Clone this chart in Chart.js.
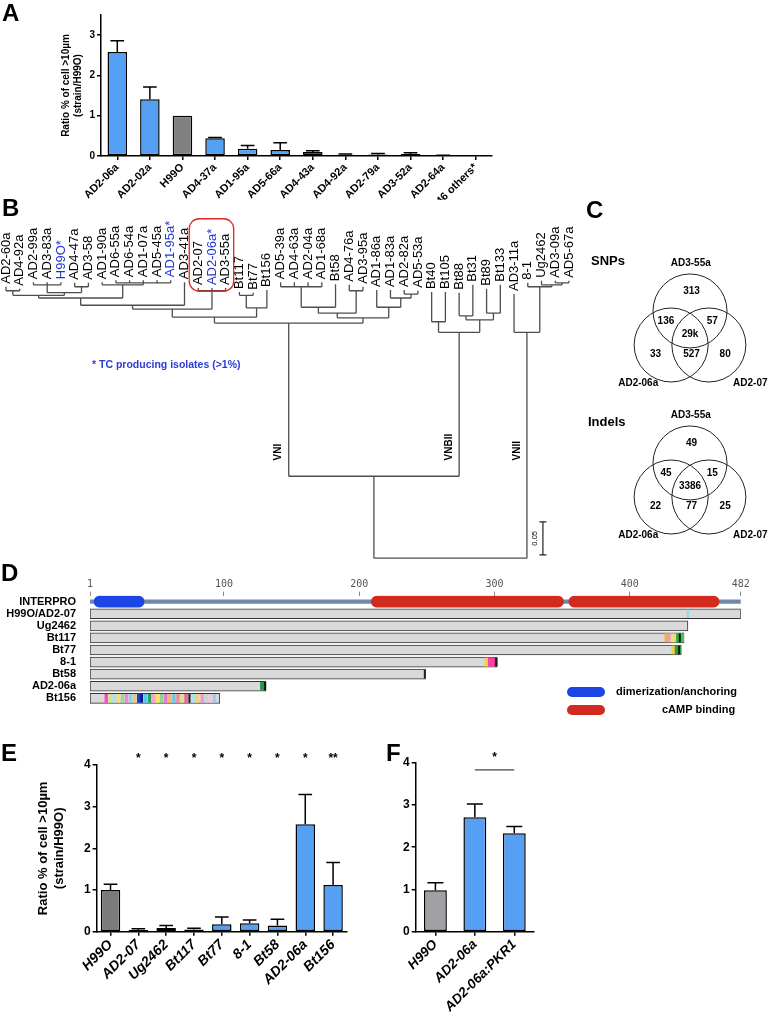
<!DOCTYPE html>
<html>
<head>
<meta charset="utf-8">
<script src="https://cdn.jsdelivr.net/npm/chart.js@4.4.1/dist/chart.umd.min.js"></script>
<style>
  body { margin: 0; background: #fff; font-family: "Liberation Sans", Arial, sans-serif; }
  #page { position: relative; width: 769px; height: 1012px; overflow: hidden; }
  canvas, .txt, .letter, .pill { position: absolute; }
  .letter { font-weight: bold; font-size: 24px; line-height: 1; }
  .txt { font-weight: bold; white-space: nowrap; line-height: 1.2; }
  .pill { width: 38px; height: 10px; border-radius: 5px; }
</style>
</head>
<body>
<div id="page">
  <canvas id="chartA" width="500" height="200" style="left:0;top:0"></canvas>
  <canvas id="tree" width="600" height="480" style="left:0;top:195px"></canvas>
  <canvas id="vennSnp" width="189" height="165" style="left:580px;top:240px"></canvas>
  <canvas id="vennIndel" width="189" height="165" style="left:580px;top:392px"></canvas>
  <canvas id="pkr" width="769" height="150" style="left:0;top:575px"></canvas>
  <canvas id="chartE" width="380" height="272" style="left:0;top:740px"></canvas>
  <canvas id="chartF" width="200" height="272" style="left:380px;top:740px"></canvas>

  <div class="letter" style="left:2px;top:1px">A</div>
  <div class="letter" style="left:2px;top:196px">B</div>
  <div class="letter" style="left:586px;top:198px">C</div>
  <div class="letter" style="left:1px;top:561px">D</div>
  <div class="letter" style="left:1px;top:741px">E</div>
  <div class="letter" style="left:386px;top:741px">F</div>

  <div class="txt" style="left:92px;top:358px;font-size:10.5px;color:#2a3bd6">* TC producing isolates (&gt;1%)</div>
  <div class="txt" style="left:591px;top:253px;font-size:13px">SNPs</div>
  <div class="txt" style="left:588px;top:414px;font-size:13px">Indels</div>

  <div class="pill" style="left:567px;top:687px;background:#1d45e6"></div>
  <div class="pill" style="left:567px;top:705px;background:#d12a1f"></div>
  <div class="txt" style="left:616px;top:685px;font-size:11px">dimerization/anchoring</div>
  <div class="txt" style="left:662px;top:703px;font-size:11px">cAMP binding</div>
</div>

<script>
// A: screen of isolates
const aStrains = ["AD2-06a", "AD2-02a", "H99O", "AD4-37a", "AD1-95a", "AD5-66a", "AD4-43a", "AD4-92a", "AD2-79a", "AD3-52a", "AD2-64a", "46 others*"];
const aRatio = [2.58, 1.41, 1.0, 0.44, 0.18, 0.15, 0.10, 0.03, 0.04, 0.05, 0.01, 0];
const aSem = [0.28, 0.30, 0, 0.02, 0.08, 0.18, 0.03, 0.02, 0.02, 0.03, 0.01, 0];

// E: PKR1 alleles
const eStrains = ["H99O", "AD2-07", "Ug2462", "Bt117", "Bt77", "8-1", "Bt58", "AD2-06a", "Bt156"];
const eRatio = [1.0, 0.04, 0.09, 0.05, 0.18, 0.20, 0.15, 2.58, 1.12];
const eSem = [0.14, 0.03, 0.06, 0.03, 0.17, 0.08, 0.15, 0.71, 0.54];
const eStars = ["", "*", "*", "*", "*", "*", "*", "*", "**"];

// F: complementation
const fStrains = ["H99O", "AD2-06a", "AD2-06a:PKR1"];
const fRatio = [0.98, 2.71, 2.33];
const fSem = [0.18, 0.31, 0.16];
const fSig = ["AD2-06a", "AD2-06a:PKR1", 3.83, "*"];

// B: tree leaves (left to right) and depth of each tip from the root
const leafNames = ["AD2-60a", "AD4-92a", "AD2-99a", "AD3-83a", "H99O", "AD4-47a", "AD3-58", "AD1-90a", "AD6-55a", "AD6-54a",
  "AD1-07a", "AD5-45a", "AD1-95a", "AD3-41a", "AD2-07", "AD2-06a", "AD3-55a", "Bt117", "Bt77", "Bt156",
  "AD5-39a", "AD4-63a", "AD2-04a", "AD1-68a", "Bt58", "AD4-76a", "AD3-95a", "AD1-86a", "AD1-83a", "AD2-82a",
  "AD5-53a", "Bt40", "Bt105", "Bt88", "Bt31", "Bt89", "Bt133", "AD3-11a", "8-1", "Ug2462", "AD3-09a", "AD5-67a"];
const leafDepth = [0.411, 0.408, 0.418, 0.418, 0.418, 0.417, 0.417, 0.418, 0.421, 0.421,
  0.421, 0.421, 0.421, 0.418, 0.409, 0.409, 0.409, 0.403, 0.402, 0.406,
  0.418, 0.418, 0.418, 0.418, 0.415, 0.414, 0.411, 0.406, 0.406, 0.406,
  0.405, 0.403, 0.403, 0.402, 0.414, 0.408, 0.414, 0.400, 0.417, 0.420, 0.420, 0.420];
const tcLeaves = ["H99O", "AD1-95a", "AD2-06a"];
const boxLeaves = ["AD2-07", "AD2-06a", "AD3-55a"];
const treeNodes = [
  ["n1", ["AD2-60a", "AD4-92a"], 0.405],
  ["n2", ["AD2-99a", "AD3-83a", "H99O"], 0.414],
  ["n3", ["AD4-47a", "AD3-58"], 0.411],
  ["n4", ["n2", "n3"], 0.402],
  ["n5", ["n1", "n4"], 0.398],
  ["nS", ["AD6-55a", "AD6-54a", "AD1-07a", "AD5-45a", "AD1-95a"], 0.417],
  ["n6", ["AD1-90a", "nS"], 0.414],
  ["n7", ["n5", "n6"], 0.394],
  ["n8", ["n7", "AD3-41a"], 0.383],
  ["n9", ["AD2-07", "AD2-06a", "AD3-55a"], 0.405],
  ["n10", ["n8", "n9"], 0.377],
  ["n11", ["Bt117", "Bt77"], 0.398],
  ["n12", ["n11", "Bt156"], 0.379],
  ["n13", ["n10", "n12"], 0.365],
  ["n14", ["AD5-39a", "AD4-63a", "AD2-04a", "AD1-68a"], 0.411],
  ["n15", ["n14", "Bt58"], 0.380],
  ["n16", ["AD4-76a", "AD3-95a"], 0.405],
  ["n17", ["n15", "n16"], 0.371],
  ["n18", ["AD2-82a", "AD5-53a"], 0.400],
  ["n19", ["AD1-83a", "n18"], 0.394],
  ["n20", ["AD1-86a", "n19"], 0.380],
  ["n21", ["n17", "n20"], 0.364],
  ["VNI", ["n13", "n21"], 0.356],
  ["b1", ["Bt40", "Bt105"], 0.358],
  ["b2", ["Bt88", "Bt31"], 0.367],
  ["b3", ["Bt89", "Bt133"], 0.371],
  ["b4", ["b2", "b3"], 0.361],
  ["VNBII", ["b1", "b4"], 0.342],
  ["u1", ["AD3-09a", "AD5-67a"], 0.417],
  ["u2", ["Ug2462", "u1"], 0.414],
  ["u3", ["8-1", "u2"], 0.411],
  ["VNII", ["AD3-11a", "u3"], 0.342],
  ["top", ["VNI", "VNBII"], 0.124],
  ["root", ["top", "VNII"], 0]
];
const cladeNames = ["VNI", "VNBII", "VNII"];
const scaleBarLen = 0.05;

// C: Venn counts, regions = [top only, top+left, top+right, all, left only, left+right, right only]
const vennSets = ["AD3-55a", "AD2-06a", "AD2-07"];
const snpCounts = ["313", "136", "57", "29k", "33", "527", "80"];
const indelCounts = ["49", "45", "15", "3386", "22", "77", "25"];

// D: Pkr1 protein products
const dRows = ["INTERPRO", "H99O/AD2-07", "Ug2462", "Bt117", "Bt77", "8-1", "Bt58", "AD2-06a", "Bt156"];
const proteinEnd = [null, 482, 443, 440, 438, 302, 249, 131, 97];
const dTicks = [1, 100, 200, 300, 400, 482];
const domainStart = [4, 209, 355];
const domainEnd = [41, 351, 466];
const stripes = [
  ["H99O/AD2-07", 442.5, 443.5],
  ["Bt117", 426, 428], ["Bt117", 428, 430], ["Bt117", 430, 432], ["Bt117", 432, 434], ["Bt117", 434, 436], ["Bt117", 436, 437.5], ["Bt117", 437.5, 440],
  ["Bt77", 431, 433], ["Bt77", 433, 435.5], ["Bt77", 435.5, 437], ["Bt77", 437, 438],
  ["8-1", 293, 295], ["8-1", 295, 300], ["8-1", 300, 302],
  ["Bt58", 248, 249],
  ["AD2-06a", 127, 129.5], ["AD2-06a", 129.5, 131],
  ["Bt156", 12, 14], ["Bt156", 15, 17], ["Bt156", 18, 20], ["Bt156", 21, 23], ["Bt156", 24, 26], ["Bt156", 27, 29],
  ["Bt156", 30, 32], ["Bt156", 33, 35], ["Bt156", 36, 38], ["Bt156", 38, 40], ["Bt156", 41, 43], ["Bt156", 44, 46],
  ["Bt156", 47, 49], ["Bt156", 50, 52], ["Bt156", 53, 55], ["Bt156", 56, 58], ["Bt156", 59, 61], ["Bt156", 62, 64],
  ["Bt156", 65, 67], ["Bt156", 68, 70], ["Bt156", 71, 73], ["Bt156", 74, 75], ["Bt156", 76, 78], ["Bt156", 79, 81],
  ["Bt156", 83, 85], ["Bt156", 86, 88], ["Bt156", 89, 91], ["Bt156", 92, 94]
];
const stripeColors = [
  "#8fdbe8",
  "#f5b23c", "#f29bc0", "#e9d9a6", "#f2e24a", "#2faa4a", "#111111", "#47c25a",
  "#f3d04a", "#2b9e46", "#111111", "#3dbb55",
  "#f4cf40", "#ff3da6", "#222222",
  "#222222",
  "#1f9a45", "#111111",
  "#ff45c8", "#cfe97a", "#a8e6e6", "#f6e36c", "#9edb8c", "#e98ad3",
  "#86d4ef", "#f3c46e", "#1d3dd0", "#0d1f80", "#56c8ef", "#2e9e5b",
  "#f5a6c9", "#f4e565", "#90d38f", "#df78d6", "#f2b56a", "#70c6df",
  "#ef88a0", "#d6e77b", "#f45d9b", "#1a1a1a", "#a7e2fb", "#f3d45f",
  "#f39bc2", "#c9d3d8", "#f6c4d8", "#99cef4"
];

const FONT = "'Liberation Sans', Arial, sans-serif";
const blue = "#55a0f5";
Chart.defaults.font.family = FONT;
Chart.defaults.color = "#000";
Chart.defaults.animation = false;
Chart.defaults.responsive = false;
Chart.defaults.plugins.legend.display = false;
Chart.defaults.plugins.tooltip.enabled = false;

function barChart(id, labels, values, sems, colors, o) {
  const marks = {
    id: "marks",
    afterDatasetsDraw(chart) {
      const { ctx, chartArea } = chart;
      const x = chart.scales.x, y = chart.scales.y;
      ctx.save();
      ctx.strokeStyle = "#000";
      ctx.lineWidth = 1.5;
      chart.getDatasetMeta(0).data.forEach((bar, i) => {
        if (!sems[i]) return;
        const top = y.getPixelForValue(values[i] + sems[i]);
        const half = bar.width * 0.35;
        ctx.beginPath();
        ctx.moveTo(bar.x, y.getPixelForValue(values[i]));
        ctx.lineTo(bar.x, top);
        ctx.moveTo(bar.x - half, top);
        ctx.lineTo(bar.x + half, top);
        ctx.stroke();
      });
      ctx.fillStyle = "#000";
      ctx.textAlign = "center";
      ctx.textBaseline = "middle";
      ctx.font = "bold 12px " + FONT;
      if (o.stars) {
        o.stars.forEach((s, i) => { if (s) ctx.fillText(s, x.getPixelForValue(i), chartArea.top - 6); });
      }
      if (o.sig) {
        const [a, b, level, text] = o.sig;
        const x0 = x.getPixelForValue(labels.indexOf(a));
        const x1 = x.getPixelForValue(labels.indexOf(b));
        const ly = y.getPixelForValue(level);
        ctx.strokeStyle = "#444";
        ctx.lineWidth = 1.2;
        ctx.beginPath();
        ctx.moveTo(x0, ly);
        ctx.lineTo(x1, ly);
        ctx.stroke();
        ctx.fillText(text, (x0 + x1) / 2, ly - 12);
      }
      ctx.restore();
    }
  };
  return new Chart(document.getElementById(id), {
    type: "bar",
    data: {
      labels: labels,
      datasets: [{
        data: values,
        backgroundColor: colors,
        borderColor: "#000",
        borderWidth: 1.5,
        borderSkipped: false,
        barPercentage: o.barPct,
        categoryPercentage: 1
      }]
    },
    options: {
      layout: { padding: o.pad },
      scales: {
        x: {
          grid: { drawOnChartArea: false, offset: false, color: "#000", lineWidth: 1.5, tickLength: 4 },
          border: { color: "#000", width: 1.5 },
          ticks: { font: o.xFont, minRotation: 45, maxRotation: 45, autoSkip: false, padding: 1 },
          afterFit: (s) => { s.height = o.xH; }
        },
        y: {
          min: 0,
          max: o.yMax,
          grid: { drawOnChartArea: false, color: "#000", lineWidth: 1.5, tickLength: 4 },
          border: { color: "#000", width: 1.5 },
          ticks: { stepSize: 1, includeBounds: false, font: o.yFont, padding: 2 },
          title: o.title ? { display: true, text: o.title, font: o.titleFont, padding: 0 } : { display: false },
          afterFit: (s) => { s.width = o.yW; }
        }
      }
    },
    plugins: [marks]
  });
}

barChart("chartA", aStrains, aRatio, aSem, aStrains.map(s => s === "H99O" ? "#808080" : blue), {
  barPct: 0.6, pad: { left: 60, top: 15, right: 8, bottom: 0 }, xH: 44, yW: 41, yMax: 3.5,
  xFont: { size: 11, weight: "bold" }, yFont: { size: 10, weight: "bold" },
  title: ["Ratio % of cell >10µm", "(strain/H99O)"], titleFont: { size: 10, weight: "bold" }
});

barChart("chartE", eStrains, eRatio, eSem, eStrains.map(s => s === "H99O" ? "#7b7b7b" : blue), {
  barPct: 0.7, pad: { left: 36, top: 25, right: 33, bottom: 0 }, xH: 80.3, yW: 60.6, yMax: 4,
  xFont: { size: 14, weight: "bold", style: "italic" }, yFont: { size: 12, weight: "bold" },
  title: ["Ratio % of cell >10µm", "(strain/H99O)"], titleFont: { size: 13, weight: "bold" },
  stars: eStars
});

barChart("chartF", fStrains, fRatio, fSem, fStrains.map(s => s === "H99O" ? "#a1a1a5" : blue), {
  barPct: 0.58, pad: { left: 0, top: 22.7, right: 46, bottom: 0 }, xH: 80.3, yW: 35.7, yMax: 4,
  xFont: { size: 13.5, weight: "bold", style: "italic" }, yFont: { size: 12, weight: "bold" },
  sig: fSig
});

// B: build the cladogram segments from the node list
const pos = {};
leafNames.forEach((n, i) => { pos[n] = { x: i, y: leafDepth[i] }; });
const treeSegs = [];
treeNodes.forEach(([id, kids, depth]) => {
  const x0 = pos[kids[0]].x;
  const x1 = pos[kids[kids.length - 1]].x;
  treeSegs.push({ x: x0, y: depth }, { x: x1, y: depth }, { x: x1, y: null });
  kids.forEach((k) => {
    treeSegs.push({ x: pos[k].x, y: pos[k].y }, { x: pos[k].x, y: depth }, { x: pos[k].x, y: null });
  });
  pos[id] = { x: (x0 + x1) / 2, y: depth };
});

const treeText = {
  id: "treeText",
  afterDatasetsDraw(chart) {
    const { ctx } = chart;
    const x = chart.scales.x, y = chart.scales.y;
    ctx.save();
    ctx.font = "13px " + FONT;
    ctx.textAlign = "left";
    ctx.textBaseline = "middle";
    let boxTop = Infinity;
    leafNames.forEach((name, i) => {
      const tc = tcLeaves.includes(name);
      const label = tc ? name + "*" : name;
      const px = x.getPixelForValue(i);
      const py = y.getPixelForValue(leafDepth[i]) - 3;
      if (boxLeaves.includes(name)) boxTop = Math.min(boxTop, py - ctx.measureText(label).width);
      ctx.fillStyle = tc ? "#1f35d8" : "#000";
      ctx.save();
      ctx.translate(px, py);
      ctx.rotate(-Math.PI / 2);
      ctx.fillText(label, 0, 0);
      ctx.restore();
    });

    // red box round the three sequenced strains
    const bl = x.getPixelForValue(leafNames.indexOf(boxLeaves[0])) - 9;
    const br = x.getPixelForValue(leafNames.indexOf(boxLeaves[boxLeaves.length - 1])) + 8;
    const bb = y.getPixelForValue(pos.n9.y) + 0.5;
    ctx.strokeStyle = "#e2271f";
    ctx.lineWidth = 1.3;
    ctx.beginPath();
    ctx.roundRect(bl, boxTop - 10, br - bl, bb - boxTop + 10, 10);
    ctx.stroke();

    // clade names along the stems
    ctx.fillStyle = "#000";
    ctx.font = "bold 10px " + FONT;
    ctx.textBaseline = "bottom";
    cladeNames.forEach((c) => {
      ctx.save();
      ctx.translate(x.getPixelForValue(pos[c].x) - 5, y.getPixelForValue(0.148));
      ctx.rotate(-Math.PI / 2);
      ctx.fillText(c, 0, 0);
      ctx.restore();
    });

    // scale bar
    const sx = x.getPixelForValue(pos.VNII.x) + 16;
    const s0 = y.getPixelForValue(0.005);
    const s1 = y.getPixelForValue(0.005 + scaleBarLen);
    ctx.strokeStyle = "#222";
    ctx.lineWidth = 1.2;
    ctx.beginPath();
    ctx.moveTo(sx, s0); ctx.lineTo(sx, s1);
    ctx.moveTo(sx - 3.5, s0); ctx.lineTo(sx + 3.5, s0);
    ctx.moveTo(sx - 3.5, s1); ctx.lineTo(sx + 3.5, s1);
    ctx.stroke();
    ctx.font = "7.5px " + FONT;
    ctx.textAlign = "center";
    ctx.textBaseline = "middle";
    ctx.save();
    ctx.translate(sx - 8, (s0 + s1) / 2);
    ctx.rotate(-Math.PI / 2);
    ctx.fillText(String(scaleBarLen), 0, 0);
    ctx.restore();
    ctx.restore();
  }
};

new Chart(document.getElementById("tree"), {
  type: "line",
  data: {
    datasets: [{
      data: treeSegs,
      borderColor: "#4d4d4d",
      borderWidth: 1.3,
      pointRadius: 0,
      spanGaps: false,
      tension: 0
    }]
  },
  options: {
    layout: { padding: 0 },
    scales: {
      x: { type: "linear", display: false, min: -0.437, max: 43.26 },
      y: { type: "linear", display: false, min: -0.177, max: 0.55 }
    }
  },
  plugins: [treeText]
});

// C: Venn diagrams, geometry in units of one circle radius
const circleCenters = [[0, 0.92], [-0.51, 0], [0.51, 0]];
const regionSpots = [[0.04, 1.46], [-0.65, 0.65], [0.6, 0.65], [0, 0.28], [-0.93, -0.25], [0.04, -0.25], [0.95, -0.25]];
const nameSpots = [[0.02, 2.2], [-1.4, -1.04], [1.63, -1.04]];

function makeVenn(id, counts) {
  const vennText = {
    id: "vennText",
    afterDatasetsDraw(chart) {
      const { ctx } = chart;
      const x = chart.scales.x, y = chart.scales.y;
      ctx.save();
      ctx.fillStyle = "#000";
      ctx.textAlign = "center";
      ctx.textBaseline = "middle";
      ctx.font = "bold 10px " + FONT;
      counts.forEach((c, i) => ctx.fillText(c, x.getPixelForValue(regionSpots[i][0]), y.getPixelForValue(regionSpots[i][1])));
      vennSets.forEach((n, i) => ctx.fillText(n, x.getPixelForValue(nameSpots[i][0]), y.getPixelForValue(nameSpots[i][1])));
      ctx.restore();
    }
  };
  new Chart(document.getElementById(id), {
    type: "scatter",
    data: {
      datasets: [{
        data: circleCenters.map(([cx, cy]) => ({ x: cx, y: cy })),
        pointRadius: (c) => c.chart.scales.x.getPixelForValue(1) - c.chart.scales.x.getPixelForValue(0),
        pointBackgroundColor: "rgba(0,0,0,0)",
        pointBorderColor: "#222",
        pointBorderWidth: 1,
        clip: false
      }]
    },
    options: {
      layout: { padding: 0 },
      scales: {
        x: { type: "linear", display: false, min: -2.973, max: 2.135 },
        y: { type: "linear", display: false, min: -1.622, max: 2.838 }
      }
    },
    plugins: [vennText]
  });
}
makeVenn("vennSnp", snpCounts);
makeVenn("vennIndel", indelCounts);

// D: protein products as floating bars
const onRow = (row, range) => dRows.map(r => (r === row ? range : null));
const stripeSets = stripes.map(([row, s, e], i) => ({
  data: onRow(row, [s, e]),
  backgroundColor: stripeColors[i],
  barThickness: 8,
  grouped: false
}));
const domainSets = domainStart.map((s, i) => ({
  data: onRow("INTERPRO", [s, domainEnd[i]]),
  backgroundColor: i === 0 ? "#1d45e6" : "#d12a1f",
  barThickness: 11,
  borderRadius: 6,
  borderSkipped: false,
  grouped: false
}));
const backboneSet = {
  data: onRow("INTERPRO", [1, 482]),
  backgroundColor: "#7189a8",
  barThickness: 3.5,
  grouped: false
};
const proteinSet = {
  data: proteinEnd.map(e => (e == null ? null : [1, e])),
  backgroundColor: "#d9d9d9",
  borderColor: "#333",
  borderWidth: 1,
  borderSkipped: false,
  barThickness: 10,
  grouped: false
};

new Chart(document.getElementById("pkr"), {
  type: "bar",
  data: { labels: dRows, datasets: [...stripeSets, ...domainSets, backboneSet, proteinSet] },
  options: {
    indexAxis: "y",
    layout: { padding: { left: 0, right: 28.3, top: 0, bottom: 2 } },
    scales: {
      x: {
        type: "linear",
        position: "top",
        min: 1,
        max: 482,
        afterBuildTicks: (s) => { s.ticks = dTicks.map(v => ({ value: v })); },
        ticks: { color: "#555", font: { family: "'DejaVu Sans Mono', monospace", size: 10 }, padding: 1 },
        grid: { drawOnChartArea: false, color: "#888", tickLength: 4 },
        border: { display: false },
        afterFit: (s) => { s.height = 18; }
      },
      y: {
        grid: { display: false, drawTicks: false },
        border: { display: false },
        ticks: { color: "#000", font: { size: 11, weight: "bold" }, padding: 14 },
        afterFit: (s) => { s.width = 90; }
      }
    }
  }
});
</script>
</body>
</html>
